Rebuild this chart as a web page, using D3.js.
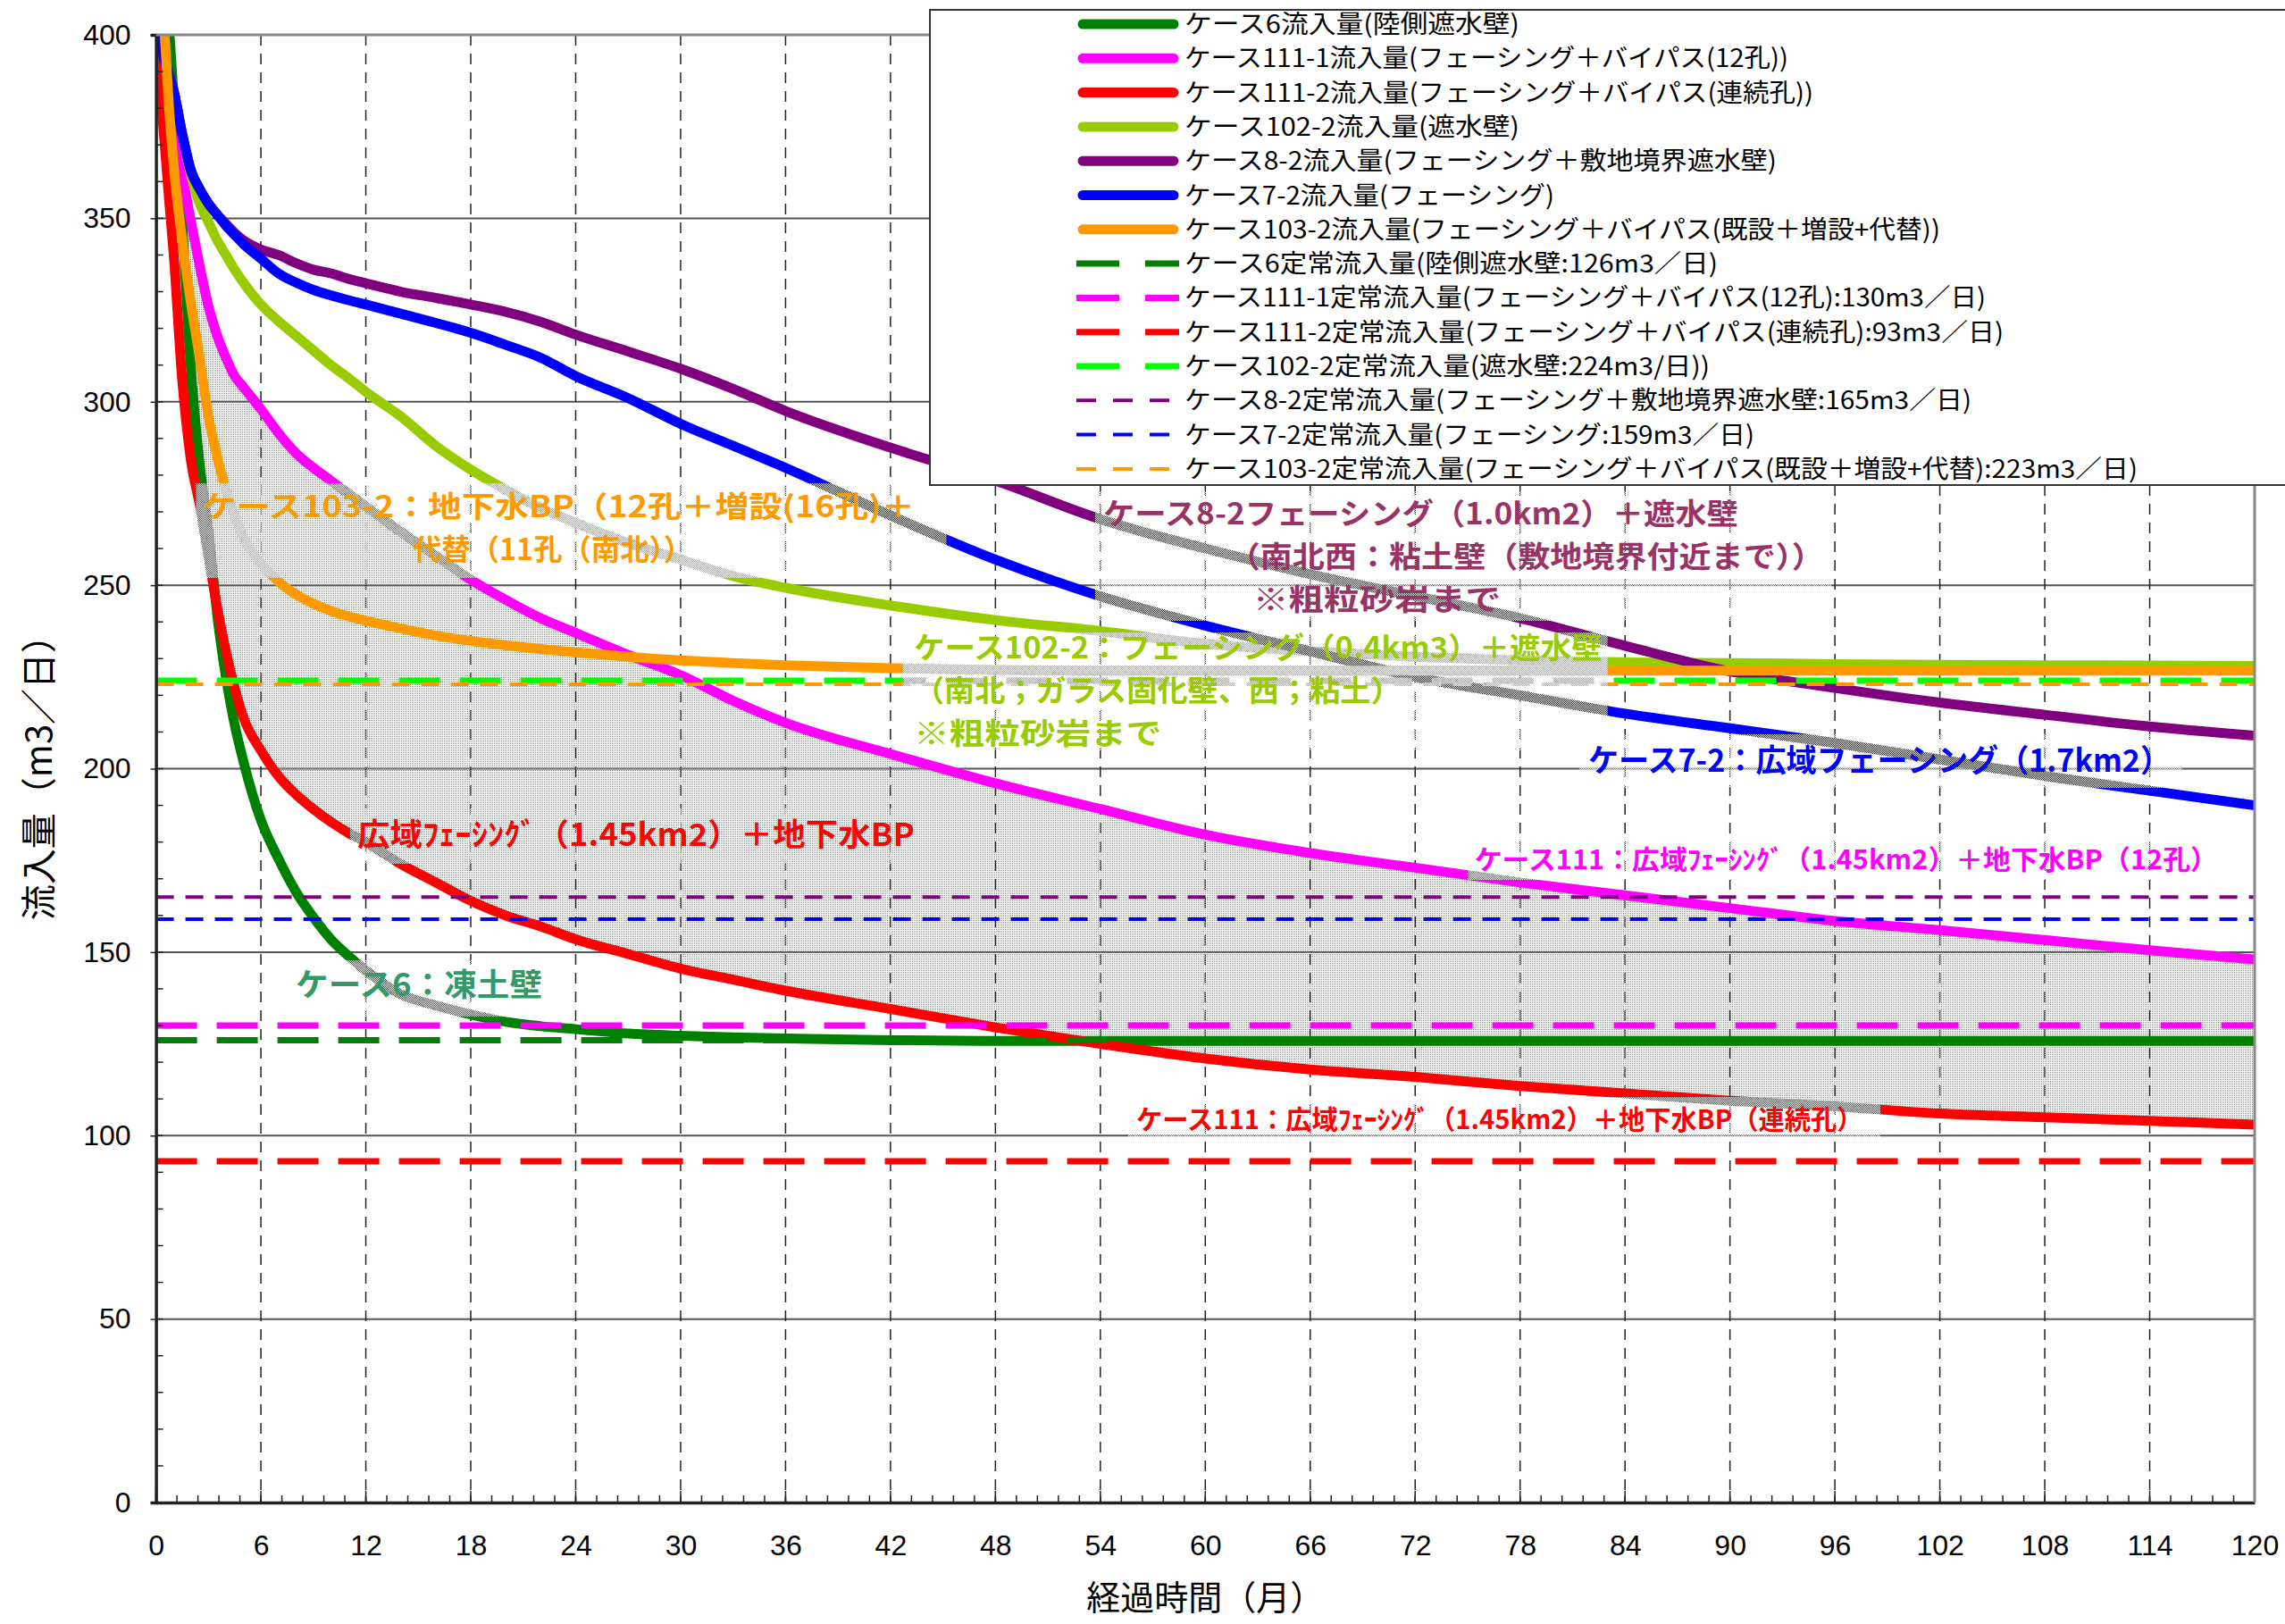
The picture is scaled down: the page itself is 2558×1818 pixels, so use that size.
<!DOCTYPE html>
<html>
<head>
<meta charset="utf-8">
<script src="https://cdn.jsdelivr.net/npm/d3@7"></script>
<style>
  body { margin: 0; background: #fff; }
  svg { display: block; }
</style>
</head>
<body>
<svg id="chart"></svg>
<script>
// ---- data ----
const months = [0, 0.25, 0.5, 0.75, 1, 1.5, 2, 2.5, 3, 3.5, 4, 4.5, 5, 6, 7, 8, 9, 10, 11, 12,
  14, 16, 18, 20, 22, 24, 27, 30, 33, 36, 42, 48, 54, 60, 66, 72, 78, 84, 90, 96, 102, 108, 114, 120];

const case6 = [null, null, null, 402, 384, 349, 309, 283, 265, 242, 225, 212, 202, 186, 175.5, 166.5, 159.5, 153.5, 149, 145,
  138.5, 135.5, 133, 131, 129.8, 129, 127.8, 127.2, 126.8, 126.5, 126, 125.8, 125.8, 125.8, 125.8, 125.8, 125.8, 125.8, 125.8, 125.8, 125.8, 125.8, 125.8, 125.8];
const case111_1 = [400, 393, 386, 379, 373, 362, 349, 337, 326, 318, 312, 307, 304, 298, 291.5, 286, 282, 278.5, 275, 271.5,
  264.5, 258, 251.5, 246, 241, 237, 231, 225.5, 218.5, 212.5, 204, 196, 189, 182, 177, 173, 169, 165.5, 162, 158.5, 156, 153.3, 150.5, 148];
const case111_2 = [400, 385, 370, 355, 341, 306, 284, 272, 258, 244, 232, 222, 214, 205, 198, 193, 189, 185.5, 182.5, 180,
  174, 169, 164, 160, 157, 153.5, 149.5, 145.5, 142.5, 139.5, 134.5, 129.5, 125, 121, 118, 116, 113.5, 111.5, 109.5, 108, 106, 105, 104, 103];
const case102_2 = [400, 397, 393, 389, 385, 373, 362, 354, 349, 344, 340, 336, 332.5, 326.5, 322, 318, 314, 310, 306.5, 302.7,
  296, 288, 281.5, 276, 271, 267, 261.5, 257, 252.5, 249.3, 244.5, 240.5, 237.5, 234, 232, 230.5, 229.5, 229, 228.8, 228.5, 228.3, 228.2, 228.1, 228];
const case8_2 = [400, 397, 393, 389, 385, 373, 363, 358, 354, 351, 348.5, 346, 344, 341.5, 340, 337.8, 336, 335, 333.5, 332.3,
  330, 328.3, 326.5, 324.5, 321.8, 318.3, 313.7, 309, 303.5, 297.5, 287.5, 278.5, 268, 260, 253, 247, 241, 233.5, 226.5, 222, 218, 214.7, 211.5, 209];
const case7_2 = [400, 397, 393, 389, 385, 373, 363, 358, 354, 351, 348, 345.5, 343, 339, 335, 332.5, 330.5, 329, 327.7, 326.5,
  324, 321.5, 318.8, 315.5, 312, 307, 301, 294, 288, 282, 269, 257, 247, 239, 232, 225, 220, 215, 211, 207, 202.5, 198, 194, 190];
const case103_2 = [null, null, 400, 380, 365, 344, 327, 312, 296, 285, 276, 269, 263, 256, 251, 247.5, 245, 243, 241.5, 240.3,
  238.2, 236.3, 234.8, 233.6, 232.6, 231.7, 230.5, 229.5, 228.8, 228.2, 227.4, 226.9, 226.7, 226.7, 226.7, 226.7, 226.7, 226.7, 226.7, 226.7, 226.7, 226.7, 226.7, 226.7];

const steadyValues = [126, 130, 93, 224, 165, 159, 223];

const seriesLabels = [
  "ケース6流入量(陸側遮水壁)",
  "ケース111-1流入量(フェーシング＋バイパス(12孔))",
  "ケース111-2流入量(フェーシング＋バイパス(連続孔))",
  "ケース102-2流入量(遮水壁)",
  "ケース8-2流入量(フェーシング＋敷地境界遮水壁)",
  "ケース7-2流入量(フェーシング)",
  "ケース103-2流入量(フェーシング＋バイパス(既設＋増設+代替))"
];
const steadyLabels = [
  "ケース6定常流入量(陸側遮水壁:126m3／日)",
  "ケース111-1定常流入量(フェーシング＋バイパス(12孔):130m3／日)",
  "ケース111-2定常流入量(フェーシング＋バイパス(連続孔):93m3／日)",
  "ケース102-2定常流入量(遮水壁:224m3/日))",
  "ケース8-2定常流入量(フェーシング＋敷地境界遮水壁:165m3／日)",
  "ケース7-2定常流入量(フェーシング:159m3／日)",
  "ケース103-2定常流入量(フェーシング＋バイパス(既設＋増設+代替):223m3／日)"
];

const xTicks = d3.range(0, 121, 6);
const yTicks = d3.range(0, 401, 50);

const noteTexts = [
  ["ケース103-2：地下水BP（12孔＋増設(16孔)＋", "代替（11孔（南北））"],
  ["ケース8-2フェーシング（1.0km2）＋遮水壁", "（南北西：粘土壁（敷地境界付近まで））", "※粗粒砂岩まで"],
  ["ケース102-2：フェーシング（0.4km3）＋遮水壁", "（南北；ガラス固化壁、西；粘土）", "※粗粒砂岩まで"],
  ["ケース7-2：広域フェーシング（1.7km2）"],
  ["ケース111：広域ﾌｪｰｼﾝｸﾞ（1.45km2）＋地下水BP（12孔）"],
  ["広域ﾌｪｰｼﾝｸﾞ（1.45km2）＋地下水BP"],
  ["ケース6：凍土壁"],
  ["ケース111：広域ﾌｪｰｼﾝｸﾞ（1.45km2）＋地下水BP（連続孔）"]
];

// ---- layout ----
const W = 2558, H = 1818;
const plot = { left: 174.6, right: 2524, top: 39, bottom: 1682 };

const curveColors = ["#008000", "#FF00FF", "#FF0000", "#99CC00", "#800080", "#0000FF", "#FF9900"];
const steadyColors = ["#008000", "#FF00FF", "#FF0000", "#00FF00", "#800080", "#0000FF", "#FF9900"];
const steadyThick = [true, true, true, true, false, false, false];

// width of each legend text as it appears in the reference (px)
const legendWidths = [375, 676, 704, 375, 663, 414, 846, 597, 897, 917, 588, 881, 638, 1067];

// annotation placement in data units: lines [month start, month end, value], box [m0, m1, v0, v1]
const noteLayout = [
  { color: "#FF9900", size: 33, lines: [[2.68, 43.4, 271.5], [14.68, 30.67, 259.8]], box: [2.27, 45.2, 277.8, 252.0] },
  { color: "#993366", size: 33, lines: [[54.16, 90.47, 269.5], [61.3, 95.37, 257.8], [62.73, 76.9, 246.1]], box: [53.7, 95.8, 275.6, 240.3] },
  { color: "#99CC00", size: 33, lines: [[43.33, 82.7, 233.0], [43.33, 71.2, 221.3], [43.33, 57.5, 209.6]], box: [42.7, 83.0, 237.1, 205.0] },
  { color: "#0000FF", size: 35, lines: [[81.9, 115.2, 202.3]], box: [81.4, 115.85, 209.4, 194.8] },
  { color: "#FF00FF", size: 30, lines: [[75.4, 117.9, 175.3]], box: [75.0, 118.3, 180.6, 169.7] },
  { color: "#FF0000", size: 35, lines: [[11.51, 43.38, 181.9]], box: [11.1, 43.8, 189.2, 174.1] },
  { color: "#339966", size: 35, lines: [[7.99, 22.09, 141.0]], box: [7.53, 22.5, 147.8, 132.4] },
  { color: "#FF0000", size: 30, lines: [[56.05, 97.6, 104.4]], box: [55.6, 98.6, 110.5, 99.1] }
];

const jp = "'Noto Sans CJK JP', 'Noto Sans', sans-serif";

const svg = d3.select("#chart").attr("width", W).attr("height", H);

const x = d3.scaleLinear().domain([0, 120]).range([plot.left, plot.right]);
const y = d3.scaleLinear().domain([0, 400]).range([plot.bottom, plot.top]);

const defs = svg.append("defs");
defs.append("clipPath").attr("id", "plotClip")
  .append("rect")
  .attr("x", plot.left).attr("y", plot.top)
  .attr("width", plot.right - plot.left).attr("height", plot.bottom - plot.top);

// pink dotted fill
const pinkPat = defs.append("pattern").attr("id", "pinkDots")
  .attr("patternUnits", "userSpaceOnUse").attr("width", 2).attr("height", 2);
pinkPat.append("rect").attr("x", 1).attr("y", 0).attr("width", 1).attr("height", 1).attr("fill", "#FF44FF");

// stipple used under the text boxes
const stip = defs.append("pattern").attr("id", "stipple")
  .attr("patternUnits", "userSpaceOnUse").attr("width", 2).attr("height", 2);
stip.append("rect").attr("x", 0).attr("y", 0).attr("width", 1).attr("height", 1).attr("fill", "#fff");
stip.append("rect").attr("x", 1).attr("y", 1).attr("width", 1).attr("height", 1).attr("fill", "#fff");

// ---- grid ----
const grid = svg.append("g");
grid.selectAll(".hgrid")
  .data(yTicks.filter(d => d > 0 && d < 400))
  .enter().append("line")
  .attr("class", "hgrid")
  .attr("x1", plot.left).attr("x2", plot.right)
  .attr("y1", d => y(d)).attr("y2", d => y(d))
  .attr("stroke", "#555").attr("stroke-width", 2);

grid.selectAll(".vgrid")
  .data(xTicks.filter(d => d > 0 && d < 120))
  .enter().append("line")
  .attr("class", "vgrid")
  .attr("x1", d => x(d)).attr("x2", d => x(d))
  .attr("y1", plot.top).attr("y2", plot.bottom)
  .attr("stroke", "#222").attr("stroke-width", 1.5)
  .attr("stroke-dasharray", "12,9");

// ---- series ----
const pts = vals => months.map((m, i) => [m, vals[i]]);
const line = d3.line()
  .defined(d => d[1] != null)
  .x(d => x(d[0]))
  .y(d => y(d[1]))
  .curve(d3.curveMonotoneX);

const body = svg.append("g").attr("clip-path", "url(#plotClip)");

// band between case 111-1 and 111-2
const band = months.map((m, i) => ({ m: m, lo: case111_2[i], hi: case111_1[i] }));
body.append("path")
  .datum(band)
  .attr("d", d3.area()
    .x(d => x(d.m))
    .y0(d => y(d.lo))
    .y1(d => y(d.hi))
    .curve(d3.curveMonotoneX))
  .attr("fill", "url(#pinkDots)");

const curves = [case6, case111_1, case111_2, case102_2, case8_2, case7_2, case103_2];
body.selectAll(".curve")
  .data(curves)
  .enter().append("path")
  .attr("class", "curve")
  .attr("d", d => line(pts(d)))
  .attr("fill", "none")
  .attr("stroke", (d, i) => curveColors[i])
  .attr("stroke-width", 11)
  .attr("stroke-linejoin", "round");

// steady-state lines
body.selectAll(".steady")
  .data(steadyValues)
  .enter().append("line")
  .attr("class", "steady")
  .attr("x1", x(0)).attr("x2", x(120))
  .attr("y1", d => y(d)).attr("y2", d => y(d))
  .attr("stroke", (d, i) => steadyColors[i])
  .attr("stroke-width", (d, i) => steadyThick[i] ? 7 : 4)
  .attr("stroke-dasharray", (d, i) => steadyThick[i] ? "46,22" : "20,13");

// ---- annotations (one text element per note, a tspan per line) ----
const notes = svg.append("g");
noteLayout.forEach((n, k) => {
  notes.append("rect")
    .attr("x", x(n.box[0])).attr("y", y(n.box[2]))
    .attr("width", x(n.box[1]) - x(n.box[0]))
    .attr("height", y(n.box[3]) - y(n.box[2]))
    .attr("fill", "url(#stipple)");
  const t = notes.append("text")
    .style("font-family", jp)
    .style("font-weight", "bold")
    .style("font-size", n.size + "px")
    .attr("fill", n.color);
  n.lines.forEach((ln, j) => {
    t.append("tspan")
      .attr("x", x(ln[0])).attr("y", y(ln[2]) + n.size * 0.36)
      .attr("textLength", x(ln[1]) - x(ln[0]))
      .attr("lengthAdjust", "spacingAndGlyphs")
      .text(noteTexts[k][j]);
  });
});

// ---- axes ----
const axes = svg.append("g");

// minor ticks
axes.selectAll(".ymin")
  .data(d3.range(0, 401, 10))
  .enter().append("line")
  .attr("x1", plot.left).attr("x2", plot.left + 8)
  .attr("y1", d => y(d)).attr("y2", d => y(d))
  .attr("stroke", "#222").attr("stroke-width", 1.5);

axes.selectAll(".xmin")
  .data(d3.range(0, 100).map(i => i * 1.2))
  .enter().append("line")
  .attr("x1", d => x(d)).attr("x2", d => x(d))
  .attr("y1", plot.bottom).attr("y2", plot.bottom - 8)
  .attr("stroke", "#222").attr("stroke-width", 1.5);

axes.selectAll(".xmaj")
  .data(xTicks)
  .enter().append("line")
  .attr("x1", d => x(d)).attr("x2", d => x(d))
  .attr("y1", plot.bottom).attr("y2", plot.bottom - 13)
  .attr("stroke", "#222").attr("stroke-width", 1.5);

// frame
svg.append("line")
  .attr("x1", plot.left).attr("x2", plot.right)
  .attr("y1", plot.top).attr("y2", plot.top)
  .attr("stroke", "#888").attr("stroke-width", 3);
svg.append("line")
  .attr("x1", plot.right).attr("x2", plot.right)
  .attr("y1", plot.top).attr("y2", plot.bottom)
  .attr("stroke", "#888").attr("stroke-width", 3);

const yAxis = axes.append("g")
  .attr("transform", "translate(" + plot.left + ",0)")
  .call(d3.axisLeft(y).tickValues(yTicks).tickSize(6).tickPadding(22));
const xAxis = axes.append("g")
  .attr("transform", "translate(0," + plot.bottom + ")")
  .call(d3.axisBottom(x).tickValues(xTicks).tickSize(0).tickPadding(36));

[yAxis, xAxis].forEach(a => {
  a.select(".domain").attr("stroke", "#222").attr("stroke-width", 3.5);
  a.selectAll(".tick line").attr("stroke", "#222").attr("stroke-width", 1.5);
  a.selectAll("text")
    .style("font-family", "'Liberation Sans', Arial, sans-serif")
    .style("font-size", "32px")
    .attr("fill", "#000");
});

// axis titles
svg.append("text")
  .attr("x", (plot.left + plot.right) / 2).attr("y", 1788)
  .attr("dy", "0.36em")
  .attr("text-anchor", "middle")
  .style("font-family", jp).style("font-size", "38px")
  .text("経過時間（月）");

svg.append("text")
  .attr("transform", "translate(44," + ((plot.top + plot.bottom) / 2) + ") rotate(-90)")
  .attr("dy", "0.36em")
  .attr("text-anchor", "middle")
  .style("font-family", jp).style("font-size", "40px")
  .text("流入量（m3／日）");

// ---- legend ----
const legend = svg.append("g");
legend.append("rect")
  .attr("x", 1041).attr("y", 11)
  .attr("width", W - 1041 + 5).attr("height", 532)
  .attr("fill", "#fff")
  .attr("stroke", "#333").attr("stroke-width", 2);

const legendItems = seriesLabels.map((t, i) => ({ text: t, color: curveColors[i], kind: "solid" }))
  .concat(steadyLabels.map((t, i) => ({ text: t, color: steadyColors[i], kind: steadyThick[i] ? "thick" : "thin" })));

const rowY = i => 27 + i * 38.3;
const item = legend.selectAll(".item")
  .data(legendItems)
  .enter().append("g")
  .attr("transform", (d, i) => "translate(0," + rowY(i) + ")");

item.append("line")
  .attr("x1", d => d.kind === "solid" ? 1212 : 1205)
  .attr("x2", d => d.kind === "solid" ? 1314 : (d.kind === "thick" ? 1320 : 1310))
  .attr("y1", 0).attr("y2", 0)
  .attr("stroke", d => d.color)
  .attr("stroke-width", d => d.kind === "solid" ? 11 : (d.kind === "thick" ? 7 : 4))
  .attr("stroke-linecap", d => d.kind === "solid" ? "round" : "butt")
  .attr("stroke-dasharray", d => d.kind === "thick" ? "48,29" : (d.kind === "thin" ? "22,19" : null));

item.append("text")
  .attr("x", 1326).attr("y", 0)
  .attr("dy", "0.36em")
  .attr("textLength", (d, i) => legendWidths[i])
  .attr("lengthAdjust", "spacingAndGlyphs")
  .style("font-family", jp)
  .style("font-size", "28px")
  .attr("fill", "#000")
  .text(d => d.text);
</script>
</body>
</html>
